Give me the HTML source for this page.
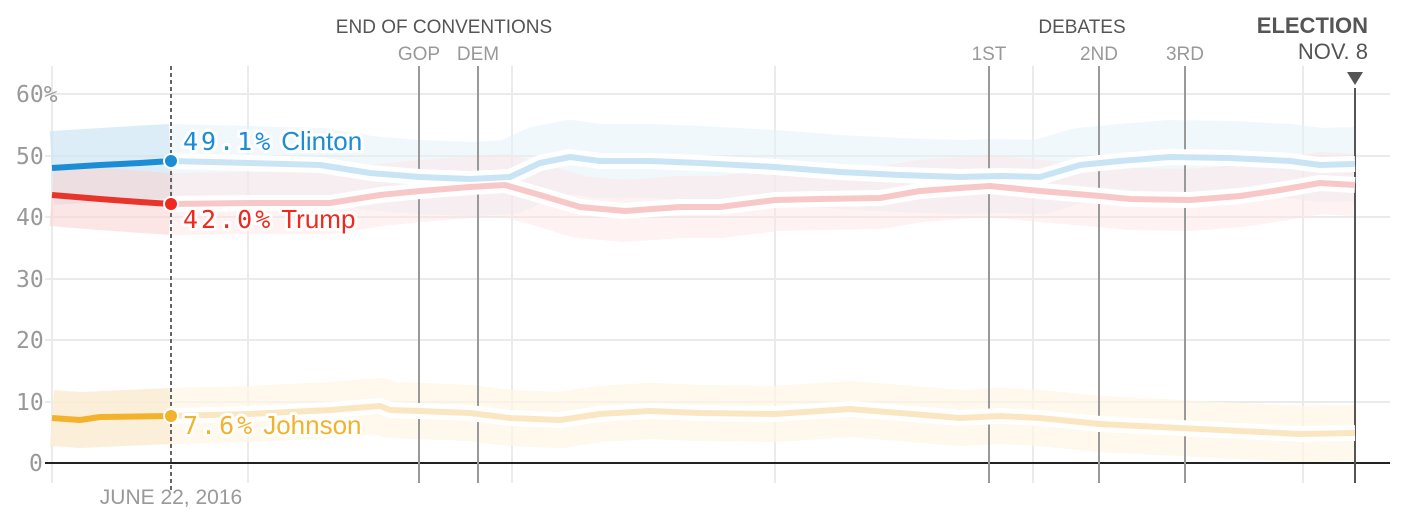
<!DOCTYPE html>
<html><head><meta charset="utf-8"><style>
body{margin:0;background:#fff;}
svg{display:block;font-family:"Liberation Sans",sans-serif;}
.tk{fill:#999;font-size:23px;font-family:"DejaVu Sans Mono","Liberation Mono",monospace;}
.num{font-family:"DejaVu Sans Mono","Liberation Mono",monospace;font-size:25px;letter-spacing:3px;}
</style></head><body>
<svg width="1402" height="530" viewBox="0 0 1402 530">
<g stroke="#ebebeb" stroke-width="2">
<line x1="45" y1="94" x2="1390" y2="94"/><line x1="45" y1="156" x2="1390" y2="156"/>
<line x1="45" y1="217" x2="1390" y2="217"/><line x1="45" y1="279" x2="1390" y2="279"/>
<line x1="45" y1="340" x2="1390" y2="340"/><line x1="45" y1="402" x2="1390" y2="402"/>
<line x1="52" y1="66" x2="52" y2="483"/><line x1="248" y1="66" x2="248" y2="483"/>
<line x1="512" y1="66" x2="512" y2="483"/><line x1="775" y1="66" x2="775" y2="483"/>
<line x1="1033" y1="66" x2="1033" y2="483"/><line x1="1303" y1="66" x2="1303" y2="483"/>
</g>
<g fill="none" stroke-linejoin="round">
<polyline stroke="#e6f2fa" stroke-width="74" points="171,161 250,163 320,165 370,173 420,177 470,179 510,177 540,163 570,157 600,161 650,161 700,163 775,167 840,172 900,175 960,177 1000,176 1040,177 1080,165 1120,161 1170,157 1230,158 1290,161 1320,165 1355,164" opacity="0.55"/>
<polyline stroke="#fde3e3" stroke-width="62" points="171,204 250,203 330,203 380,195 420,191 470,187 505,185 540,195 580,207 625,211 680,207 720,207 775,200 820,199 880,198 920,191 960,188 990,186 1040,191 1100,196 1130,199 1190,200 1240,196 1280,190 1320,183 1355,185" opacity="0.45"/>
<polyline stroke="#fdf5e6" stroke-width="56" points="171,416 250,414 330,410 380,406 390,410 420,411 470,413 510,418 560,420 600,414 650,411 700,413 775,414 850,409 900,413 960,418 1000,416 1040,418 1100,424 1180,428 1240,431 1300,434 1355,433" opacity="0.7"/>
<polyline stroke="#cfe6f5" stroke-width="74" points="52,168 100,165 171,161" opacity="0.7"/>
<polyline stroke="#f8d3d3" stroke-width="62" points="52,195 100,199 171,204" opacity="0.6"/>
<polyline stroke="#fbedd6" stroke-width="56" points="52,418 80,420 171,416" opacity="0.9"/>
</g>
<line x1="45" y1="463" x2="1390" y2="463" stroke="#222" stroke-width="2"/>
<g stroke="#999" stroke-width="2">
<line x1="419" y1="66" x2="419" y2="483"/><line x1="478" y1="66" x2="478" y2="483"/>
<line x1="989" y1="66" x2="989" y2="483"/><line x1="1099" y1="66" x2="1099" y2="483"/>
<line x1="1185" y1="66" x2="1185" y2="483"/>
</g>
<line x1="1355" y1="88" x2="1355" y2="483" stroke="#555" stroke-width="2"/>
<polygon points="1347,72 1363,72 1355,85" fill="#555"/>
<line x1="171" y1="66" x2="171" y2="490" stroke="#666" stroke-width="2" stroke-dasharray="4,3"/>
<g fill="none" stroke-linejoin="round" stroke-width="6">
<polyline stroke="#fff" stroke-width="16" points="171,161 250,163 320,165 370,173 420,177 470,179 510,177 540,163 570,157 600,161 650,161 700,163 775,167 840,172 900,175 960,177 1000,176 1040,177 1080,165 1120,161 1170,157 1230,158 1290,161 1320,165 1355,164"/>
<polyline stroke="#fff" stroke-width="16" points="171,204 250,203 330,203 380,195 420,191 470,187 505,185 540,195 580,207 625,211 680,207 720,207 775,200 820,199 880,198 920,191 960,188 990,186 1040,191 1100,196 1130,199 1190,200 1240,196 1280,190 1320,183 1355,185"/>
<polyline stroke="#fff" stroke-width="16" points="171,416 250,414 330,410 380,406 390,410 420,411 470,413 510,418 560,420 600,414 650,411 700,413 775,414 850,409 900,413 960,418 1000,416 1040,418 1100,424 1180,428 1240,431 1300,434 1355,433"/>
<polyline stroke="#c9e4f5" points="171,161 250,163 320,165 370,173 420,177 470,179 510,177 540,163 570,157 600,161 650,161 700,163 775,167 840,172 900,175 960,177 1000,176 1040,177 1080,165 1120,161 1170,157 1230,158 1290,161 1320,165 1355,164"/>
<polyline stroke="#f8c8c8" points="171,204 250,203 330,203 380,195 420,191 470,187 505,185 540,195 580,207 625,211 680,207 720,207 775,200 820,199 880,198 920,191 960,188 990,186 1040,191 1100,196 1130,199 1190,200 1240,196 1280,190 1320,183 1355,185"/>
<polyline stroke="#fbe6c2" points="171,416 250,414 330,410 380,406 390,410 420,411 470,413 510,418 560,420 600,414 650,411 700,413 775,414 850,409 900,413 960,418 1000,416 1040,418 1100,424 1180,428 1240,431 1300,434 1355,433"/>
<polyline stroke="#1a8dd6" points="52,168 100,165 140,163 171,161"/>
<polyline stroke="#e8352b" points="52,195 100,199 140,202 171,204"/>
<polyline stroke="#f2b22c" points="52,418 80,420 100,417 171,416"/>
</g>
<g stroke="#fff" stroke-width="2">
<circle cx="171" cy="161" r="7" fill="#1a8dd6"/>
<circle cx="171" cy="204" r="7" fill="#f0281e"/>
<circle cx="171" cy="416" r="7" fill="#f2b22c"/>
</g>
<g font-size="26" paint-order="stroke" stroke="#fff" stroke-width="6" stroke-linejoin="round">
<text x="183" y="150" fill="#1a8dd6"><tspan class="num">49.1%</tspan><tspan dx="8">Clinton</tspan></text>
<text x="183" y="228" fill="#f0281e"><tspan class="num">42.0%</tspan><tspan dx="8">Trump</tspan></text>
<text x="183" y="434" fill="#f2b22c"><tspan class="num">7.6%</tspan><tspan dx="8">Johnson</tspan></text>
</g>
<text class="tk" x="16" y="102">60%</text>
<text class="tk" x="16" y="164">50</text>
<text class="tk" x="16" y="225">40</text>
<text class="tk" x="16" y="287">30</text>
<text class="tk" x="16" y="348">20</text>
<text class="tk" x="16" y="410">10</text>
<text class="tk" x="29" y="471">0</text>
<g font-size="19" text-anchor="middle">
<text x="444" y="33" fill="#555">END OF CONVENTIONS</text>
<text x="419" y="60" fill="#999">GOP</text>
<text x="478" y="60" fill="#999">DEM</text>
<text x="1082" y="33" fill="#555">DEBATES</text>
<text x="989" y="60" fill="#999">1ST</text>
<text x="1099" y="60" fill="#999">2ND</text>
<text x="1185" y="60" fill="#999">3RD</text>
</g>
<text x="1368" y="33" text-anchor="end" font-size="22" font-weight="bold" fill="#555">ELECTION</text>
<text x="1368" y="59" text-anchor="end" font-size="22" fill="#555">NOV. 8</text>
<text x="171" y="504" text-anchor="middle" font-size="21" fill="#999">JUNE 22, 2016</text>
</svg>
</body></html>
